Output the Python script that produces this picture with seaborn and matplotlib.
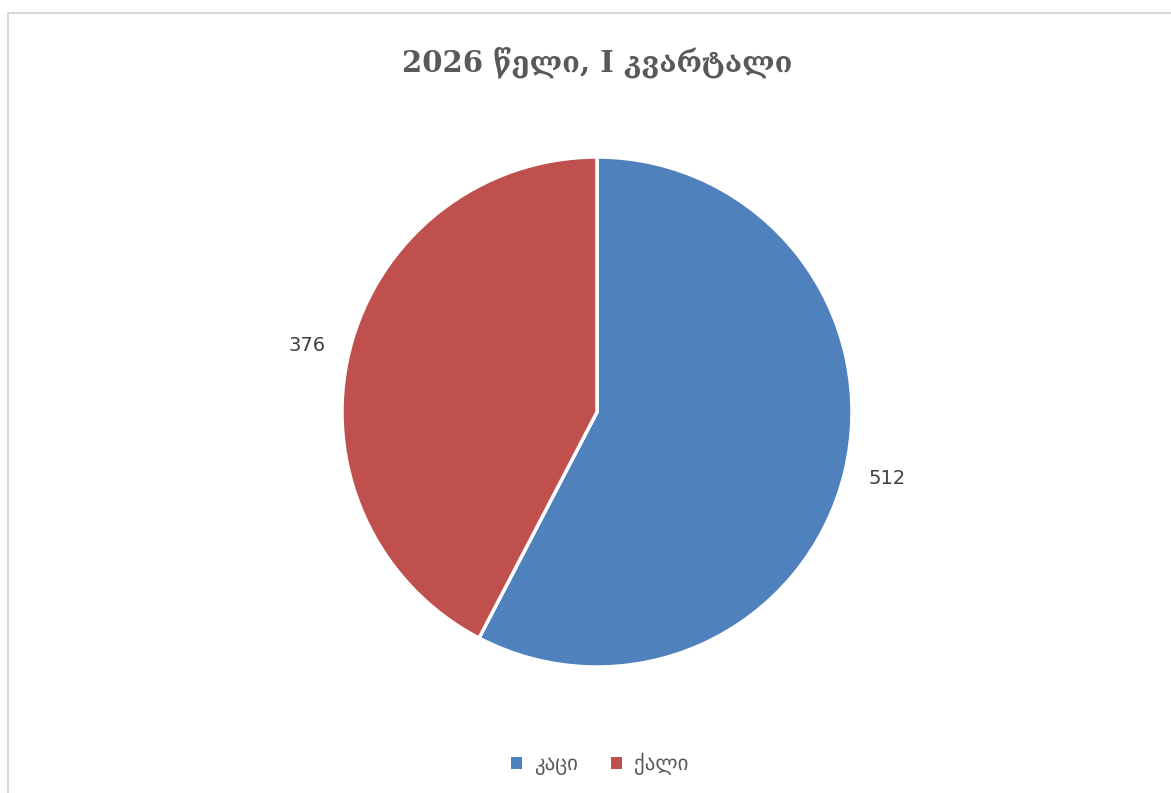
import matplotlib
matplotlib.use("Agg")
import matplotlib.pyplot as plt
import matplotlib.patches as mpatches
import seaborn as sns

categories = ["კაცი", "ქალი"]
values = [512, 376]
title = "2026 წელი, I კვარტალი"

sns.set_theme(style="white")
plt.rcParams['font.family'] = ['DejaVu Sans']
colors = ["#4F81BD", "#C0504D"]

W, H = 1171, 793
fig = plt.figure(figsize=(W/100, H/100), dpi=100)
fig.patch.set_facecolor("white")

# frame
fig.add_artist(mpatches.Rectangle((8/W, -0.1), 1.2, 1 - 13/H + 0.1, transform=fig.transFigure,
                                  fill=False, edgecolor="#d9d9d9", linewidth=1.5))

cx, cy, r = 597, 412, 255
ax = fig.add_axes([(cx - r)/W, (H - cy - r)/H, 2*r/W, 2*r/H])
wedges, texts = ax.pie(values, colors=colors, startangle=90, counterclock=False,
                       labels=[str(v) for v in values], labeldistance=1.095,
                       wedgeprops=dict(edgecolor="white", linewidth=2.5),
                       textprops=dict(color="#404040", fontsize=14))
ax.set_aspect("equal")
ax.set_xlim(-1, 1)
ax.set_ylim(-1, 1)
ax.axis("off")

fig.text(cx/W, 1 - 62/H, title, ha="center", va="center", fontsize=21,
         family=["DejaVu Serif"], fontweight="bold", color="#595959")

handles = [mpatches.Patch(facecolor=c, edgecolor="none") for c in colors]
leg = fig.legend(handles, categories, loc="center", bbox_to_anchor=(600/W, 1 - 764/H),
                 ncol=2, frameon=False, fontsize=15, handlelength=0.5, handleheight=0.5,
                 handletextpad=0.6, columnspacing=1.6, labelcolor="#595959")

fig.savefig("out.png", dpi=100, facecolor="white")
